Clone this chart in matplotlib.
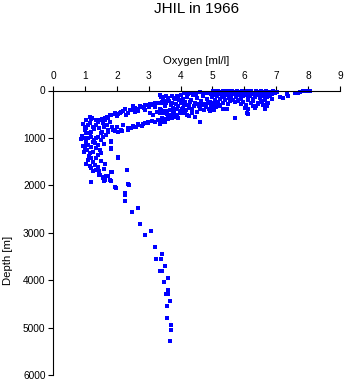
import numpy as np
import matplotlib.pyplot as plt

plt.rcParams['font.family'] = ['Liberation Sans', 'DejaVu Sans']

title = 'JHIL in 1966'
x_label = 'Oxygen [ml/l]'
y_label = 'Depth [m]'
x_ticks = [0, 1, 2, 3, 4, 5, 6, 7, 8, 9]
y_ticks = [0, 1000, 2000, 3000, 4000, 5000, 6000]

# (oxygen [ml/l], depth [m]) pairs
surface = [
    (5.02, 5), (5.10, 30), (5.18, 0), (5.25, 45), (5.33, 15), (5.40, 60), (5.47, 5), (5.55, 35),
    (5.62, 0), (5.70, 50), (5.78, 20), (5.85, 70), (5.92, 10), (6.00, 40), (6.08, 0), (6.15, 55),
    (6.22, 20), (6.30, 80), (6.38, 5), (6.45, 45), (6.52, 15), (6.60, 65), (6.68, 0), (6.75, 30),
    (6.82, 90), (6.90, 10), (5.05, 90), (5.13, 120), (5.21, 75), (5.29, 105), (5.37, 140), (5.44, 95),
    (5.52, 160), (5.59, 110), (5.67, 80), (5.74, 135), (5.82, 100), (5.89, 170), (5.97, 125), (6.04, 95),
    (6.12, 150), (6.19, 110), (6.27, 185), (6.34, 130), (6.42, 100), (6.49, 160), (6.57, 120), (6.64, 200),
    (6.72, 145), (6.79, 110), (6.87, 175), (5.08, 200), (5.16, 240), (5.24, 180), (5.32, 260), (5.40, 210),
    (5.48, 290), (5.56, 230), (5.64, 190), (5.72, 250), (5.80, 220), (5.88, 280), (5.96, 240), (6.04, 300),
    (6.12, 210), (6.20, 260), (6.28, 230), (6.36, 320), (6.44, 270), (6.52, 240), (6.60, 300), (6.70, 260),
    (5.15, 20), (5.35, 50), (5.50, 70), (5.65, 30), (5.80, 45), (5.95, 60), (6.10, 25), (6.25, 45),
    (6.40, 30), (6.55, 40), (6.70, 55), (6.85, 35), (5.28, 25), (5.58, 15), (5.88, 40), (6.18, 35),
    (6.48, 70), (6.78, 70),
    (6.02, 362), (6.12, 397), (6.12, 503), (6.27, 327), (6.43, 292), (6.65, 397), (6.70, 327), (6.54, 222),
    (6.75, 257), (6.86, 81), (5.45, 397), (5.34, 383), (5.13, 292), (5.03, 257), (5.71, 587), (6.07, 481),
    (5.32, 390), (6.33, 371), (5.81, 196),
    (6.95, 60), (7.02, 40), (7.11, 130), (7.22, 152), (7.38, 116), (7.33, 81), (7.59, 46), (7.69, 60),
    (7.75, 32), (7.85, 10), (7.90, 5), (7.97, 0), (8.00, 10), (8.06, 0),
]

transition = [
    (3.80, 150), (3.88, 120), (3.95, 200), (4.02, 90), (4.08, 170), (4.15, 240), (4.20, 130), (4.27, 300),
    (4.33, 190), (4.40, 100), (4.45, 260), (4.52, 160), (4.58, 330), (4.63, 220), (4.70, 120), (4.75, 290),
    (4.82, 180), (4.88, 380), (4.93, 240), (4.98, 140), (3.85, 280), (3.92, 330), (4.00, 260), (4.05, 380),
    (4.12, 310), (4.18, 420), (4.25, 360), (4.30, 250), (4.37, 400), (4.43, 330), (4.50, 450), (4.55, 280),
    (4.62, 390), (4.68, 310), (4.73, 420), (4.80, 350), (4.86, 270), (4.91, 430), (4.96, 330),
    (4.10, 60), (4.22, 80), (4.35, 50), (4.48, 70), (4.60, 40), (4.72, 60), (4.85, 50), (4.95, 80),
    (3.70, 300), (3.75, 360), (3.65, 230), (3.60, 170), (3.55, 260), (3.50, 320), (3.45, 210), (3.40, 270),
    (3.38, 140), (3.35, 380), (4.05, 470), (4.20, 520), (4.35, 480), (4.45, 560), (4.61, 658), (4.28, 540),
    (3.90, 520), (3.98, 440), (4.15, 480), (5.05, 300), (5.12, 350), (5.20, 320), (5.00, 360), (5.15, 260),
    (5.25, 300), (5.05, 420), (3.36, 100), (3.45, 130), (3.55, 110), (3.62, 150), (3.72, 120), (3.40, 420),
    (3.48, 470), (3.58, 440), (3.66, 520), (3.75, 480), (3.35, 700), (3.42, 660), (3.52, 610), (3.62, 570),
    (3.70, 540),
]

upper_arm = [
    (1.21, 583), (1.47, 618), (1.63, 583), (1.79, 527), (1.94, 499), (2.10, 478), (2.26, 386), (2.41, 407),
    (2.57, 372), (2.73, 337), (2.88, 316), (3.04, 288), (3.20, 266), (3.36, 266), (2.46, 411), (2.57, 376),
    (2.67, 390), (2.78, 341), (2.88, 411), (2.99, 306), (3.09, 292), (3.20, 341), (3.30, 271), (3.41, 236),
    (3.51, 222), (3.62, 200), (3.72, 271), (3.82, 180), (3.93, 165), (4.03, 200), (2.25, 390), (2.56, 447),
    (2.14, 461), (2.30, 517), (1.93, 482), (1.83, 517), (1.72, 587), (1.62, 623), (1.78, 658), (1.57, 693),
    (1.46, 623), (1.41, 658), (1.36, 728), (1.25, 763), (1.20, 601), (1.15, 693), (1.10, 728), (1.05, 798),
    (0.99, 834), (2.00, 540), (2.20, 430), (2.35, 470), (2.50, 330), (2.65, 440), (2.85, 370), (3.00, 340),
    (3.15, 310), (2.05, 500), (1.70, 560), (1.55, 600), (1.35, 620),
]

lower_arm = [
    (2.46, 798), (2.57, 763), (2.67, 714), (2.78, 742), (2.88, 693), (2.99, 658), (3.09, 644), (3.20, 672),
    (3.30, 623), (3.41, 587), (3.51, 658), (3.62, 601), (3.72, 573), (3.82, 552), (3.93, 587), (1.73, 829),
    (1.94, 864), (2.15, 850), (2.36, 794), (2.52, 759), (2.67, 738), (2.83, 710), (2.99, 689), (3.20, 654),
    (3.36, 618), (2.61, 763), (2.35, 834), (2.14, 834), (2.04, 869), (1.88, 834), (1.72, 869),
    (3.04, 482), (3.15, 517), (3.25, 447), (3.36, 482), (3.46, 431), (3.57, 503), (3.67, 411), (3.78, 447),
    (3.88, 390), (3.98, 482), (4.08, 376), (4.19, 306),
]

minimum = [
    (1.67, 939), (1.57, 974), (1.52, 904), (1.41, 974), (1.36, 1009), (1.25, 1080), (1.20, 974), (1.15, 904),
    (1.10, 1009), (0.99, 1009), (0.89, 1030), (1.05, 1080), (1.10, 1150), (0.99, 1220), (1.20, 1185),
    (1.31, 1115), (1.36, 1220), (1.46, 1255), (1.52, 1326), (1.41, 1361), (1.83, 1066), (1.83, 1220),
    (2.04, 1396), (1.15, 1326), (1.20, 1431), (1.25, 1502), (1.10, 1466), (1.31, 1572), (1.41, 1607),
    (1.62, 1558), (1.20, 1642), (2.33, 1678), (1.83, 1713), (1.67, 1797), (1.57, 1818), (1.62, 1889),
    (1.78, 1889), (1.46, 1783), (1.20, 1924), (1.93, 2029), (2.35, 1980), (2.25, 2170),
    (0.95, 700), (1.00, 760), (1.05, 900), (0.92, 950), (1.02, 1120), (0.95, 1180), (1.08, 1250),
    (0.98, 1290), (1.12, 1380), (1.05, 1540), (1.15, 1600), (1.25, 1700), (1.35, 1680), (1.45, 1700),
    (1.30, 1050), (1.40, 1150), (1.50, 1050), (1.60, 1120), (1.25, 1300), (1.35, 1420), (1.50, 1480),
    (1.60, 1650), (1.20, 870), (1.30, 820), (1.45, 800), (1.60, 760), (1.70, 720), (1.55, 880),
    (1.85, 780), (2.00, 760), (1.05, 620), (1.15, 560), (2.20, 730), (1.58, 1843), (1.71, 1794),
    (1.85, 1723), (1.81, 1899), (1.61, 1906), (1.45, 1780), (1.19, 1934), (1.96, 2054), (2.37, 1990),
    (2.27, 2195), (1.83, 1231), (1.81, 1083), (2.05, 1421),
]

deep = [
    (2.27, 2336), (2.67, 2469), (2.49, 2553), (2.74, 2813), (3.07, 2954), (2.89, 3045), (3.21, 3306),
    (3.43, 3446), (3.24, 3552), (3.40, 3552), (3.50, 3700), (3.36, 3798), (3.43, 3805), (3.62, 3953),
    (3.49, 4044), (3.62, 4199), (3.54, 4290), (3.62, 4290), (3.68, 4438), (3.58, 4543), (3.58, 4797),
    (3.71, 4937), (3.71, 5050), (3.67, 5282),
]

points = np.array(surface + transition + upper_arm + lower_arm + minimum + deep)

fig = plt.figure(figsize=(3.45, 3.84), dpi=100)
ax = fig.add_axes([53 / 345, 9 / 384, 287 / 345, 284.5 / 384])

ax.plot(points[:, 0], points[:, 1], 's', color='#0000ff', ms=2.7, mew=0, clip_on=False)

ax.set_xlim(0, 9)
ax.set_ylim(6000, 0)
ax.set_xticks(x_ticks)
ax.set_yticks(y_ticks)

ax.spines['bottom'].set_visible(False)
ax.spines['right'].set_visible(False)
ax.spines['top'].set_linewidth(0.8)
ax.spines['left'].set_linewidth(0.8)
ax.xaxis.tick_top()
ax.tick_params(axis='x', direction='out', length=3.6, width=0.8, pad=3.2, labelsize=7.3)
ax.tick_params(axis='y', direction='out', length=3.4, width=0.8, pad=2.0, labelsize=7.3)

ax.xaxis.set_label_position('top')
ax.set_xlabel(x_label, fontsize=8.2)
ax.xaxis.set_label_coords(0.5, 1.093)
ax.set_ylabel(y_label, fontsize=8.2)
ax.yaxis.set_label_coords(-0.139, 0.404)

ax.set_title(title, fontsize=11, y=1.271, pad=0)

fig.savefig('out.png', dpi=100)
